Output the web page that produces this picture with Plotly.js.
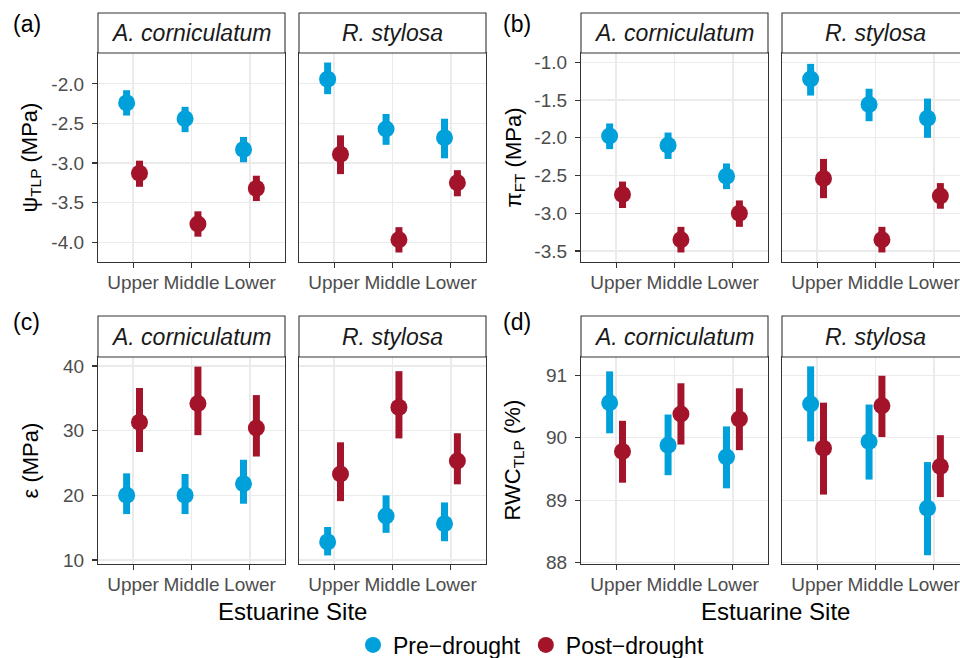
<!DOCTYPE html>
<html><head><meta charset="utf-8">
<script src="https://cdn.plot.ly/plotly-3.0.1.min.js"></script>
<style>html,body{margin:0;padding:0;overflow:hidden;background:#fff}</style>
</head><body><div id="chart"></div>
<script>
// ---------- data ----------
const sites = ['Upper', 'Middle', 'Lower'];
const species = ['A. corniculatum', 'R. stylosa'];
const periods = ['Pre\u2212drought', 'Post\u2212drought'];

// (a) psi TLP (MPa)
const psiA_pre = [-2.24, -2.44, -2.83], psiA_pre_lo = [-2.40, -2.61, -2.99], psiA_pre_hi = [-2.08, -2.29, -2.67];
const psiA_post = [-3.13, -3.77, -3.32], psiA_post_lo = [-3.30, -3.93, -3.48], psiA_post_hi = [-2.97, -3.61, -3.16];
const psiR_pre = [-1.94, -2.57, -2.68], psiR_pre_lo = [-2.13, -2.77, -2.94], psiR_pre_hi = [-1.73, -2.38, -2.44];
const psiR_post = [-2.89, -3.97, -3.25], psiR_post_lo = [-3.14, -4.13, -3.42], psiR_post_hi = [-2.65, -3.81, -3.09];

// (b) pi FT (MPa)
const piA_pre = [-1.975, -2.10, -2.51], piA_pre_lo = [-2.15, -2.28, -2.68], piA_pre_hi = [-1.81, -1.93, -2.34];
const piA_post = [-2.75, -3.35, -3.00], piA_post_lo = [-2.93, -3.52, -3.18], piA_post_hi = [-2.58, -3.18, -2.83];
const piR_pre = [-1.22, -1.56, -1.74], piR_pre_lo = [-1.44, -1.78, -2.00], piR_pre_hi = [-1.02, -1.35, -1.48];
const piR_post = [-2.54, -3.35, -2.77], piR_post_lo = [-2.80, -3.52, -2.94], piR_post_hi = [-2.28, -3.18, -2.60];

// (c) epsilon (MPa)
const epsA_pre = [20.0, 20.0, 21.8], epsA_pre_lo = [17.1, 17.1, 18.7], epsA_pre_hi = [23.4, 23.3, 25.5];
const epsA_post = [31.3, 34.2, 30.4], epsA_post_lo = [26.7, 29.3, 26.0], epsA_post_hi = [36.6, 39.9, 35.5];
const epsR_pre = [12.8, 16.8, 15.6], epsR_pre_lo = [10.7, 14.2, 12.9], epsR_pre_hi = [15.1, 20.0, 18.9];
const epsR_post = [23.3, 33.6, 25.3], epsR_post_lo = [19.1, 28.8, 21.7], epsR_post_hi = [28.2, 39.2, 29.6];

// (d) RWC TLP (%)
const rwcA_pre = [90.56, 89.88, 89.69], rwcA_pre_lo = [90.07, 89.40, 89.19], rwcA_pre_hi = [91.06, 90.37, 90.18];
const rwcA_post = [89.78, 90.38, 90.30], rwcA_post_lo = [89.28, 89.89, 89.80], rwcA_post_hi = [90.27, 90.87, 90.79];
const rwcR_pre = [90.54, 89.94, 88.87], rwcR_pre_lo = [89.94, 89.33, 88.12], rwcR_pre_hi = [91.14, 90.53, 89.61];
const rwcR_post = [89.83, 90.51, 89.54], rwcR_post_lo = [89.09, 90.01, 89.05], rwcR_post_hi = [90.56, 90.99, 90.04];

// tick labels
const psiTicks = [-4.0, -3.5, -3.0, -2.5, -2.0], psiTickText = ['-4.0', '-3.5', '-3.0', '-2.5', '-2.0'];
const piTicks = [-3.5, -3.0, -2.5, -2.0, -1.5, -1.0], piTickText = ['-3.5', '-3.0', '-2.5', '-2.0', '-1.5', '-1.0'];
const epsTicks = [10, 20, 30, 40], epsTickText = ['10', '20', '30', '40'];
const rwcTicks = [88, 89, 90, 91], rwcTickText = ['88', '89', '90', '91'];

const panelLabels = ['(a)', '(b)', '(c)', '(d)'];
const yTitles = ['\u03c8<sub>TLP</sub> (MPa)', '\u03c0<sub>FT</sub> (MPa)', '\u03b5 (MPa)', 'RWC<sub>TLP</sub> (%)'];
const xTitle = 'Estuarine Site';

// ---------- layout helpers ----------
const W = 975, H = 720;
const FONT = 'Liberation Sans, Arial, Helvetica, sans-serif';
const colors = ['#00A1DB', '#A3142B'];
const px = v => v / W;
const py = v => 1 - v / H;

const blocks = [[[98, 285], [299, 486]], [[581, 768], [782, 969]]];
const rows = [[53, 262], [357, 564]];
const stripRows = [[13, 53], [316, 357]];

const panels = [
  { row: 0, block: 0, data: [[[psiA_pre, psiA_pre_lo, psiA_pre_hi], [psiA_post, psiA_post_lo, psiA_post_hi]], [[psiR_pre, psiR_pre_lo, psiR_pre_hi], [psiR_post, psiR_post_lo, psiR_post_hi]]], range: [-4.25, -1.61], tv: psiTicks, tt: psiTickText },
  { row: 0, block: 1, data: [[[piA_pre, piA_pre_lo, piA_pre_hi], [piA_post, piA_post_lo, piA_post_hi]], [[piR_pre, piR_pre_lo, piR_pre_hi], [piR_post, piR_post_lo, piR_post_hi]]], range: [-3.646, -0.876], tv: piTicks, tt: piTickText },
  { row: 1, block: 0, data: [[[epsA_pre, epsA_pre_lo, epsA_pre_hi], [epsA_post, epsA_post_lo, epsA_post_hi]], [[epsR_pre, epsR_pre_lo, epsR_pre_hi], [epsR_post, epsR_post_lo, epsR_post_hi]]], range: [9.38, 41.39], tv: epsTicks, tt: epsTickText },
  { row: 1, block: 1, data: [[[rwcA_pre, rwcA_pre_lo, rwcA_pre_hi], [rwcA_post, rwcA_post_lo, rwcA_post_hi]], [[rwcR_pre, rwcR_pre_lo, rwcR_pre_hi], [rwcR_post, rwcR_post_lo, rwcR_post_hi]]], range: [87.98, 91.29], tv: rwcTicks, tt: rwcTickText }
];

const dodge = [-0.11, 0.11];
const traces = [];
const layout = {
  width: W, height: H,
  margin: { l: 0, r: 0, t: 0, b: 0 },
  paper_bgcolor: '#fff', plot_bgcolor: '#fff',
  font: { family: FONT, color: '#000' },
  showlegend: true,
  legend: {
    orientation: 'h', x: px(531), xanchor: 'center', y: py(645), yanchor: 'middle',
    font: { size: 23, family: FONT, color: '#000' }, bgcolor: 'rgba(0,0,0,0)', itemclick: false
  },
  shapes: [], annotations: []
};

panels.forEach((p, pi) => {
  const yd = [py(rows[p.row][1]), py(rows[p.row][0])];
  for (let f = 0; f < 2; f++) {
    const k = pi * 2 + f + 1;
    const xn = 'x' + (k > 1 ? k : ''), yn = 'y' + (k > 1 ? k : '');
    const xa = 'xaxis' + (k > 1 ? k : ''), ya = 'yaxis' + (k > 1 ? k : '');
    const xd = blocks[p.block][f];
    layout[xa] = {
      domain: [px(xd[0]), px(xd[1])], anchor: yn, range: [0.4, 3.6],
      tickvals: [1, 2, 3], ticktext: sites, ticks: 'outside', ticklen: 5, tickwidth: 1.1, tickcolor: '#333',
      showgrid: true, gridcolor: '#EBEBEB', gridwidth: 1.2, zeroline: false,
      showline: true, mirror: true, linecolor: '#333', linewidth: 1.1,
      tickfont: { size: 19, color: '#4D4D4D', family: FONT }, ticklabelstandoff: -2, fixedrange: true
    };
    layout[ya] = {
      domain: yd, anchor: xn, range: p.range,
      tickvals: p.tv, ticktext: p.tt, showticklabels: f === 0,
      ticks: f === 0 ? 'outside' : '', ticklen: 5, tickwidth: 1.1, tickcolor: '#333',
      showgrid: true, gridcolor: '#EBEBEB', gridwidth: 1.2, zeroline: false,
      showline: true, mirror: true, linecolor: '#333', linewidth: 1.1,
      tickfont: { size: 19, color: '#4D4D4D', family: FONT }, ticklabelstandoff: 4, fixedrange: true
    };
    // strip
    const sr = stripRows[p.row];
    layout.shapes.push({ type: 'rect', xref: 'paper', yref: 'paper', x0: px(xd[0]), x1: px(xd[1]), y0: py(sr[1]), y1: py(sr[0]), fillcolor: '#fff', line: { color: '#333', width: 1.1 } });
    layout.annotations.push({ xref: 'paper', yref: 'paper', x: px((xd[0] + xd[1]) / 2), y: py((sr[0] + sr[1]) / 2), xanchor: 'center', yanchor: 'middle', showarrow: false, text: '<i>' + species[f] + '</i>', font: { size: 23, family: FONT, color: '#1A1A1A' } });
    // traces
    for (let s = 0; s < 2; s++) {
      const d = p.data[f][s];
      const mean = d[0], lo = d[1], hi = d[2];
      traces.push({
        type: 'scatter', mode: 'markers', xaxis: xn, yaxis: yn,
        x: sites.map((_, i) => i + 1 + dodge[s]), y: mean,
        error_y: { type: 'data', symmetric: false, array: hi.map((v, i) => v - mean[i]), arrayminus: mean.map((v, i) => v - lo[i]), color: colors[s], thickness: 7, width: 0 },
        marker: { color: colors[s], size: 17, line: { width: 0 } },
        name: periods[s], legendgroup: periods[s], showlegend: pi === 0 && f === 0,
        hoverinfo: 'skip'
      });
    }
  }
  // panel label
  const bx = p.block === 0 ? 0 : 490;
  layout.annotations.push({ xref: 'paper', yref: 'paper', x: px(bx + 11), y: py(p.row === 0 ? 24 : 322), xanchor: 'left', yanchor: 'middle', showarrow: false, text: panelLabels[pi], font: { size: 23, family: FONT, color: '#000' } });
  // y title
  layout.annotations.push({ xref: 'paper', yref: 'paper', x: px(bx + (p.block === 0 ? 30 : 24)), y: py((rows[p.row][0] + rows[p.row][1]) / 2), xanchor: 'center', yanchor: 'middle', textangle: -90, showarrow: false, text: yTitles[pi], font: { size: 22, family: FONT, color: '#000' } });
  // x title (bottom row)
  if (p.row === 1) {
    const b = blocks[p.block];
    layout.annotations.push({ xref: 'paper', yref: 'paper', x: px((b[0][0] + b[1][1]) / 2), y: py(611), xanchor: 'center', yanchor: 'middle', showarrow: false, text: xTitle, font: { size: 24, family: FONT, color: '#000' } });
  }
});

Plotly.newPlot('chart', traces, layout, { displayModeBar: false, staticPlot: true });
</script></body></html>
